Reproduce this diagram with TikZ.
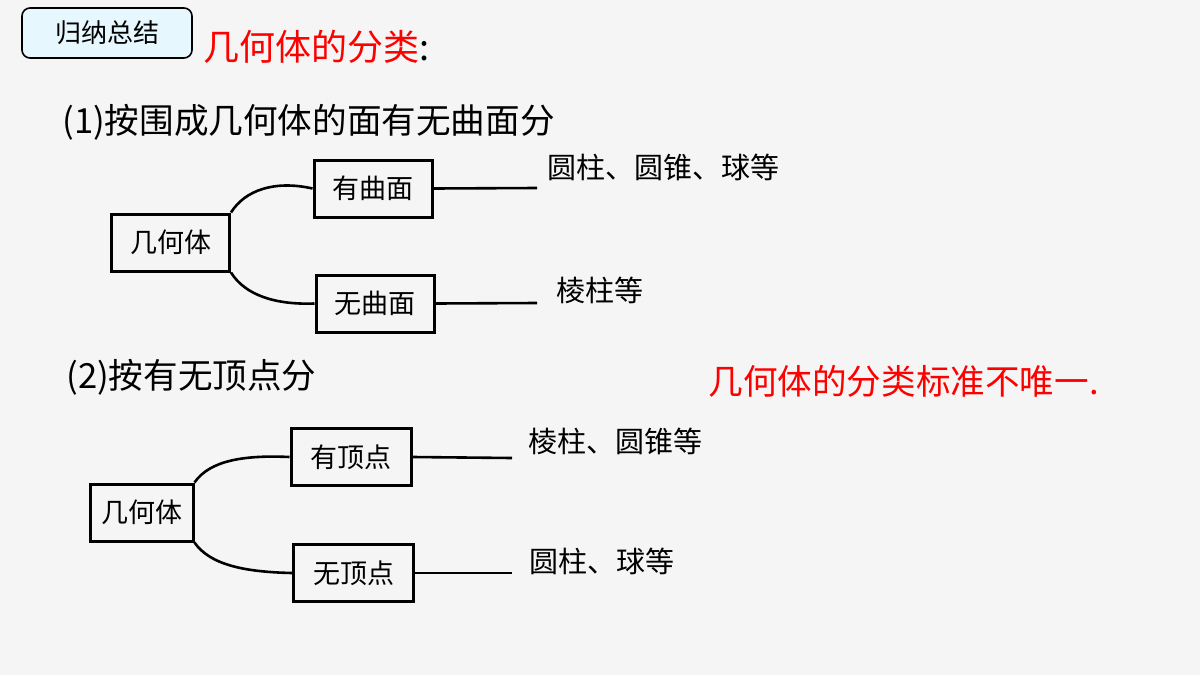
\documentclass[tikz,border=0pt]{standalone}
\usepackage{fontspec}
\setmainfont{Noto Sans CJK SC}
\begin{document}
\begin{tikzpicture}[x=0.5pt,y=-0.5pt,
 box/.style={draw,line width=1.5pt,minimum width=59pt,minimum height=28.5pt,inner sep=0pt,font=\fontsize{13.5}{15}\selectfont},
 lab/.style={anchor=west,inner sep=0pt,font=\fontsize{14.5}{16}\selectfont},
 ln/.style={line width=1.3pt}]
\fill[gray!8] (0,0) rectangle (1200,675);
\useasboundingbox (0,0) rectangle (1200,675);
\node[draw,line width=0.8pt,rounded corners=4pt,fill=cyan!10,minimum width=85pt,minimum height=25pt,font=\fontsize{13}{15}\selectfont] (badge) at (107,33) {归纳总结};
\node[anchor=west,inner sep=0pt,font=\fontsize{18}{20}\selectfont] (title) at (203,47) {\textcolor{red}{几何体的分类}:};
\node[anchor=west,inner sep=0pt,font=\fontsize{17.3}{19}\selectfont] (h1) at (62,122) {(1)按围成几何体的面有无曲面分};
\node[box] (a) at (170.5,242.5) {几何体};
\node[box] (b) at (373,188.5) {有曲面};
\node[box] (c) at (375,303.5) {无曲面};
\coordinate (be) at (537,188);
\coordinate (ce) at (537,303);
\draw[ln] (b.east) -- (be);
\draw[ln] (c.east) -- (ce);
\draw[ln] (a.north east) .. controls (245,190) and (275,180) .. (b.west);
\draw[ln] (a.south east) .. controls (245,295) and (275,305) .. (c.west);
\node[lab] (t1) at (547,167) {圆柱、圆锥、球等};
\node[lab] (t2) at (556,290) {棱柱等};
\node[anchor=west,inner sep=0pt,font=\fontsize{17.3}{19}\selectfont] (h2) at (66,377) {(2)按有无顶点分};
\node[anchor=west,inner sep=0pt,text=red,font=\fontsize{17.3}{19}\selectfont] (note) at (708,381) {几何体的分类标准不唯一.};
\node[box,minimum width=51.5pt] (d) at (141.5,512.5) {几何体};
\node[box,minimum width=60pt] (e) at (351,457) {有顶点};
\node[box,minimum width=60pt] (f) at (353.5,573) {无顶点};
\coordinate (ee) at (512,458);
\coordinate (fe) at (512,573);
\draw[ln] (e.east) -- (ee);
\draw[ln] (f.east) -- (fe);
\draw[ln] (d.north east) .. controls (210,460) and (245,455) .. (e.west);
\draw[ln] (d.south east) .. controls (210,565) and (245,572) .. (f.west);
\node[lab] (t3) at (528,441) {棱柱、圆锥等};
\node[lab] (t4) at (529,561) {圆柱、球等};
\end{tikzpicture}
\end{document}
